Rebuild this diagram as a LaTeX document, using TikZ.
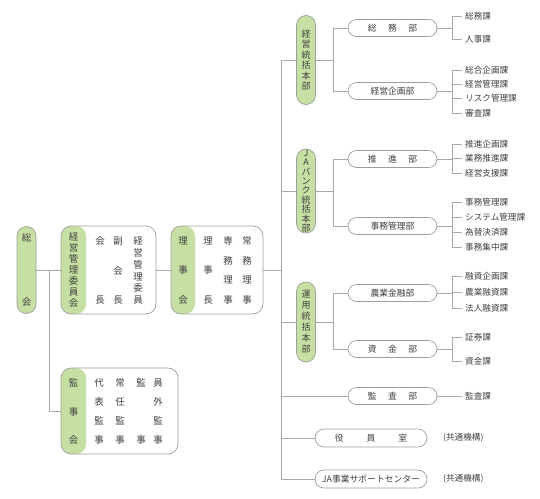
\documentclass[tikz,border=0pt]{standalone}
\usepackage{fontspec}
\setmainfont{Noto Sans CJK JP}
\definecolor{grn}{HTML}{C6DFA2}
\definecolor{bord}{HTML}{9E9E9E}
\definecolor{lnc}{HTML}{A8A8A8}
\definecolor{txt}{HTML}{404040}
\newcommand\fz[2]{\fontsize{#1}{#2}\selectfont}
\newcommand\gp[1]{\hspace{#1em}}
\begin{document}
\begin{tikzpicture}[x=1pt,y=-1pt,
  conn/.style={draw=lnc, line width=0.7pt},
  vpill/.style={draw=bord, fill=grn, line width=0.7pt, rounded corners=9.5pt, minimum width=19pt, inner sep=0pt, align=center, text=txt},
  greenleft/.style={path picture={\fill[grn] (path picture bounding box.north west) rectangle ([xshift=#1]path picture bounding box.south west);}},
  bigbox/.style={draw=bord, fill=white, line width=0.7pt, rounded corners=10pt, inner sep=0pt},
  col/.style={inner sep=0pt, align=center, text=txt},
  dept/.style={draw=bord, fill=white, line width=0.7pt, rounded corners=8.5pt, minimum width=89pt, minimum height=17pt, inner sep=0pt, text=txt, font=\fz{8.8}{10}},
  wide/.style={dept, minimum width=112pt, minimum height=18pt, rounded corners=9pt},
  sect/.style={anchor=west, inner sep=3pt, text=txt, font=\fz{8.6}{10}},
]
\useasboundingbox (0,0) rectangle (540,498);

% left part
\node[vpill, minimum height=87pt, font=\fz{9.5}{64}] (sokai) at (26.5,270) {総\\会};

\node[bigbox, minimum width=95pt, minimum height=88pt, greenleft=25pt] (keiei) at (108.5,270) {};
\node[col, font=\fz{9.5}{11}] (keiei-t) at (73.5,270) {経\\営\\管\\理\\委\\員\\会};
\node[col, font=\fz{9.5}{59}] (keiei-c1) at (100,270.5) {会\\長};
\node[col, font=\fz{9.5}{29.5}] (keiei-c2) at (118,270.5) {副\\会\\長};
\node[col, font=\fz{9.5}{11.8}] (keiei-c3) at (138,270.5) {経\\営\\管\\理\\委\\員};

\node[bigbox, minimum width=92pt, minimum height=88pt, greenleft=24pt] (riji) at (217,270) {};
\node[col, font=\fz{9.5}{29.5}] (riji-t) at (183,270.5) {理\\事\\会};
\node[col, font=\fz{9.5}{29.5}] (riji-c1) at (208,270.5) {理\\事\\長};
\node[col, font=\fz{9.5}{19.7}] (riji-c2) at (228,270.5) {専\\務\\理\\事};
\node[col, font=\fz{9.5}{19.7}] (riji-c3) at (247,270.5) {常\\務\\理\\事};

\node[bigbox, minimum width=117pt, minimum height=86pt, greenleft=25pt] (kanji) at (119.5,411) {};
\node[col, font=\fz{9.5}{28.5}] (kanji-t) at (73.5,411.5) {監\\事\\会};
\node[col, font=\fz{9.5}{19}] (kanji-c1) at (99,411.5) {代\\表\\監\\事};
\node[col, font=\fz{9.5}{19}] (kanji-c2) at (120,411.5) {常\\任\\監\\事};
\node[col, font=\fz{9.5}{57}] (kanji-c3) at (141,411.5) {監\\事};
\node[col, font=\fz{9.5}{19}] (kanji-c4) at (158,411.5) {員\\外\\監\\事};

\coordinate (j0) at (49,270);
\coordinate (tr) at (281,270);
\draw[conn] (sokai.east) -- (keiei.west);
\draw[conn] (j0) |- (kanji.west);
\draw[conn] (keiei.east) -- (riji.west);
\draw[conn] (riji.east) -- (tr);

% headquarters
\node[vpill, minimum height=89pt, font=\fz{9}{10.4}] (hq1) at (306,60) {経\\営\\統\\括\\本\\部};
\node[vpill, minimum height=84pt, font=\fz{9}{9.4}] (hq2) at (306,191) {J\\A\\バ\\ン\\ク\\統\\括\\本\\部};
\node[vpill, minimum height=80pt, font=\fz{9}{11}] (hq3) at (306,322) {運\\用\\統\\括\\本\\部};

% departments
\node[dept] (d1) at (392.5,28) {総\gp{1.3}務\gp{1.3}部};
\node[dept] (d2) at (392.5,91) {経営企画部};
\node[dept] (d3) at (392.5,159) {推\gp{1.3}進\gp{1.3}部};
\node[dept] (d4) at (392.5,226) {事務管理部};
\node[dept] (d5) at (392.5,293) {農業金融部};
\node[dept] (d6) at (392.5,349) {資\gp{1.3}金\gp{1.3}部};
\node[dept] (d7) at (392.5,396) {監\gp{1.3}査\gp{1.3}部};
\node[wide] (d8) at (371,438) {役\gp{2.6}員\gp{2.6}室};
\node[wide] (d9) at (371,479) {JA事業サポートセンター};
\node[sect] (c8) at (440,438) {(共通機構)};
\node[sect] (c9) at (440,479) {(共通機構)};

% sections
\node[sect] (s11) at (462,16) {総務課};
\node[sect] (s12) at (462,39) {人事課};
\node[sect] (s21) at (462,70) {総合企画課};
\node[sect] (s22) at (462,84) {経営管理課};
\node[sect] (s23) at (462,98.5) {リスク管理課};
\node[sect] (s24) at (462,113) {審査課};
\node[sect] (s31) at (462,144) {推進企画課};
\node[sect] (s32) at (462,158.5) {業務推進課};
\node[sect] (s33) at (462,173) {経営支援課};
\node[sect] (s41) at (462,202) {事務管理課};
\node[sect] (s42) at (462,217) {システム管理課};
\node[sect] (s43) at (462,232) {為替決済課};
\node[sect] (s44) at (462,247) {事務集中課};
\node[sect] (s51) at (462,276) {融資企画課};
\node[sect] (s52) at (462,292) {農業融資課};
\node[sect] (s53) at (462,308) {法人融資課};
\node[sect] (s61) at (462,337) {証券課};
\node[sect] (s62) at (462,361) {資金課};
\node[sect] (s71) at (462,396) {監査課};

% trunk
\coordinate (tx) at (281,0);
\coordinate (bx) at (333,0);
\coordinate (sx) at (452,0);
\draw[conn] (hq1.west -| tx) -- (d9.west -| tx);
\foreach \h in {hq1,hq2,hq3,d7,d8,d9} \draw[conn] (\h.west) -- (\h.west -| tx);

% HQ to departments
\draw[conn] (hq1.east) -- (hq1.east -| bx);
\draw[conn] (d1.west) -- (d1.west -| bx) -- (d2.west -| bx) -- (d2.west);
\draw[conn] (hq2.east) -- (hq2.east -| bx);
\draw[conn] (d3.west) -- (d3.west -| bx) -- (d4.west -| bx) -- (d4.west);
\draw[conn] (hq3.east) -- (hq3.east -| bx);
\draw[conn] (d5.west) -- (d5.west -| bx) -- (d6.west -| bx) -- (d6.west);

% departments to sections
\foreach \d in {d1,d2,d3,d4,d5,d6} \draw[conn] (\d.east) -- (\d.east -| sx);
\draw[conn] (s11.west) -- (s11.west -| sx) -- (s12.west -| sx) -- (s12.west);
\draw[conn] (s21.west) -- (s21.west -| sx) -- (s24.west -| sx) -- (s24.west);
\draw[conn] (s31.west) -- (s31.west -| sx) -- (s33.west -| sx) -- (s33.west);
\draw[conn] (s41.west) -- (s41.west -| sx) -- (s44.west -| sx) -- (s44.west);
\draw[conn] (s51.west) -- (s51.west -| sx) -- (s53.west -| sx) -- (s53.west);
\draw[conn] (s61.west) -- (s61.west -| sx) -- (s62.west -| sx) -- (s62.west);
\foreach \s in {s22,s23,s32,s42,s43,s52} \draw[conn] (\s.west) -- (\s.west -| sx);
\draw[conn] (d7.east) -- (s71.west);
\end{tikzpicture}
\end{document}
